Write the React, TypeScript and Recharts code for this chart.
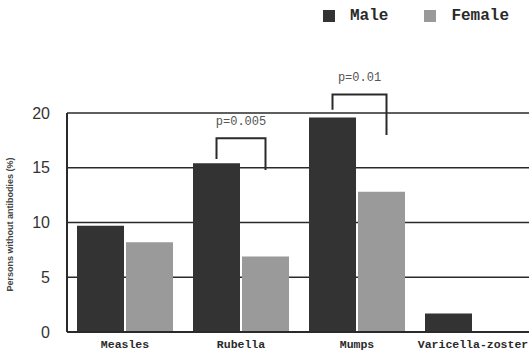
import React from "react";
import { BarChart, Bar, XAxis, YAxis, CartesianGrid, Legend } from "recharts";

const categories = ["Measles", "Rubella", "Mumps", "Varicella-zoster"];
const seriesNames = ["Male", "Female"];
const maleValues = [9.7, 15.4, 19.6, 1.7];
const femaleValues = [8.2, 6.9, 12.8, 0];
const yTicks = [0, 5, 10, 15, 20];
const pLabels = ["", "p=0.005", "p=0.01", ""];
const bracketTop = [null, 17.7, 21.7, null];
const bracketLeftEnd = [null, 15.8, 20.3, null];
const bracketRightEnd = [null, 14.8, 18.0, null];

const MALE = "#333333";
const FEMALE = "#9a9a9a";
const INK = "#2a2a2a";
const BAR_GAP = 2;

const data = categories.map((c, i) => ({
  name: c,
  Male: maleValues[i],
  Female: femaleValues[i],
}));

const BracketLabel = (props: any) => {
  const { x, y, width, height, value, index } = props;
  const top = bracketTop[index];
  if (top == null || !value) return null;
  const base = y + height;
  const k = height / value;
  const py = (v: number) => base - v * k;
  const lx = x + width / 2;
  const rx = x + width + BAR_GAP + width / 2 + (index === 2 ? 5 : 0);
  const ty = py(top);
  const d = `M${lx},${py(bracketLeftEnd[index] as number)} L${lx},${ty} L${rx},${ty} L${rx},${py(
    bracketRightEnd[index] as number
  )}`;
  return (
    <g>
      <path d={d} fill="none" stroke={INK} strokeWidth={2} />
      <text
        x={(lx + rx) / 2}
        y={ty - 13}
        textAnchor="middle"
        fontFamily="'Liberation Mono', monospace"
        fontSize={12}
        fill="#555"
      >
        {pLabels[index]}
      </text>
    </g>
  );
};

const LegendContent = (props: any) => {
  const payload = [...(props.payload || [])].sort(
    (a: any, b: any) => seriesNames.indexOf(a.value) - seriesNames.indexOf(b.value)
  );
  return (
    <div style={{ display: "flex", alignItems: "center" }}>
      {payload.map((p: any) => (
        <div key={p.value} style={{ display: "flex", alignItems: "center", marginRight: 36 }}>
          <span
            style={{
              display: "inline-block",
              width: 12,
              height: 12,
              background: p.color,
              marginRight: 15,
            }}
          />
          <span
            style={{
              fontFamily: "'Liberation Mono', monospace",
              fontWeight: "bold",
              fontSize: 16,
              color: INK,
              lineHeight: "16px",
            }}
          >
            {p.value}
          </span>
        </div>
      ))}
    </div>
  );
};

const YLabel = (props: any) => {
  const vb = props.viewBox || {};
  const cx = vb.x + 11;
  const cy = vb.y + vb.height / 2 + 2;
  return (
    <text
      x={cx}
      y={cy}
      transform={`rotate(-90, ${cx}, ${cy})`}
      textAnchor="middle"
      dominantBaseline="middle"
      fontFamily="'Liberation Sans', Arial, sans-serif"
      fontSize={9}
      fontWeight="bold"
      fill="#444"
    >
      Persons without antibodies (%)
    </text>
  );
};

export default function App() {
  return (
    <div style={{ position: "absolute", left: 0, top: 0, width: 529, height: 354, overflow: "hidden", background: "#fff" }}>
      <BarChart
        width={531}
        height={354}
        data={data}
        margin={{ top: 97, right: 0, bottom: 0, left: 0 }}
        barCategoryGap={10}
        barGap={BAR_GAP}
      >
        <CartesianGrid vertical={false} stroke={INK} strokeWidth={1.5} />
        <XAxis
          dataKey="name"
          height={22}
          interval={0}
          tickLine={false}
          tickSize={0}
          tickMargin={8}
          axisLine={{ stroke: INK, strokeWidth: 2 }}
          tick={{ fontFamily: "'Liberation Mono', monospace", fontWeight: "bold", fontSize: 11.5, fill: INK }}
        />
        <YAxis
          width={67}
          domain={[0, 20]}
          ticks={yTicks}
          allowDataOverflow
          tickLine={false}
          tickSize={0}
          tickMargin={17}
          axisLine={{ stroke: INK, strokeWidth: 2 }}
          tick={{ fontFamily: "'Liberation Sans', Arial, sans-serif", fontSize: 16, fill: "#333" }}
          label={<YLabel />}
        />
        <Legend
          verticalAlign="top"
          align="left"
          content={<LegendContent />}
          wrapperStyle={{ position: "absolute", top: 8, left: 323, width: 220 }}
        />
        <Bar dataKey="Male" fill={MALE} barSize={47} isAnimationActive={false} label={<BracketLabel />} />
        <Bar dataKey="Female" fill={FEMALE} barSize={47} isAnimationActive={false} />
      </BarChart>
    </div>
  );
}
